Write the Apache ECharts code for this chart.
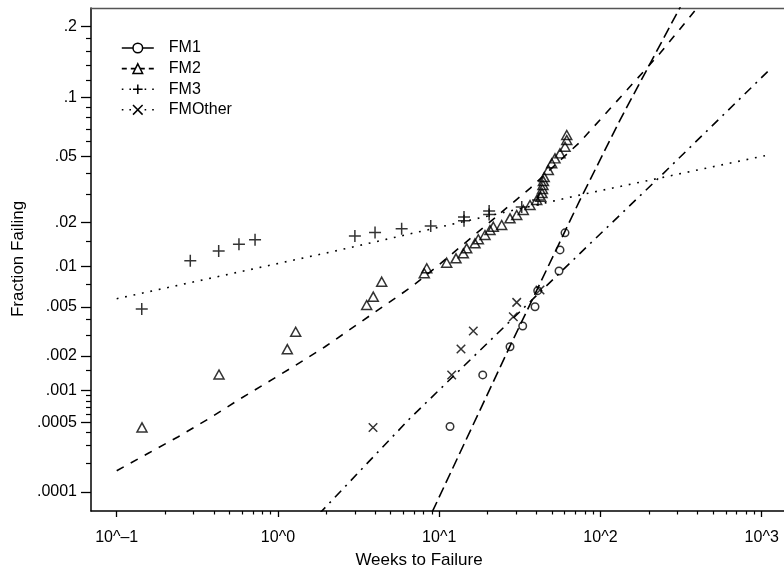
<!DOCTYPE html>
<html><head><meta charset="utf-8">
<script src="https://cdn.jsdelivr.net/npm/echarts@6/dist/echarts.min.js"></script>
<style>html,body{margin:0;padding:0;background:#fff}#c{width:784px;height:573px}</style>
</head><body><div id="c"></div>
<script>
// ---------- data (weeks to failure, fraction failing) ----------
const seriesNames = ['FM1', 'FM2', 'FM3', 'FMOther'];

const fm1Weeks = [11.67, 18.62, 27.49, 32.95, 39.28, 40.82, 55.34, 56.13, 60.29];
const fm1Frac  = [0.00046, 0.00137, 0.00239, 0.00354, 0.00502, 0.00666, 0.0093, 0.0131, 0.0171];

const fm2Weeks = [0.1435, 0.431, 1.143, 1.288, 3.55, 3.90, 4.40, 8.08, 8.37, 11.13, 12.71, 14.11, 14.81,
  16.67, 17.48, 19.23, 20.65, 21.65, 24.41, 27.49, 30.25, 33.23, 36.57, 40.25, 42.6, 43.4, 43.7, 44.0,
  44.3, 44.8, 47.5, 49.85, 52.25, 56.1, 60.3, 61.8, 61.8];
const fm2Frac  = [0.00045, 0.00138, 0.00228, 0.00318, 0.00518, 0.0060, 0.00777, 0.00895, 0.00973, 0.01066,
  0.01145, 0.01241, 0.01344, 0.01454, 0.01548, 0.01654, 0.01786, 0.01877, 0.01926, 0.02128, 0.02235,
  0.02404, 0.02585, 0.02776, 0.0290, 0.0306, 0.0324, 0.0342, 0.0361, 0.0381, 0.0419, 0.0457, 0.0487,
  0.0519, 0.0564, 0.0613, 0.0651];

const fm3Weeks = [0.143, 0.286, 0.429, 0.573, 0.721, 3.0, 4.0, 5.85, 8.86, 14.25, 14.25, 20.4, 20.4, 32.5, 41.0];
const fm3Frac  = [0.00482, 0.0110, 0.0129, 0.0143, 0.0154, 0.0163, 0.0172, 0.0182, 0.0190, 0.0217, 0.0205,
  0.0237, 0.0225, 0.0251, 0.0278];

const fmOWeeks = [3.886, 11.95, 13.65, 16.27, 28.81, 30.25, 42.19];
const fmOFrac  = [0.00045, 0.00137, 0.00229, 0.00322, 0.0042, 0.00543, 0.00674];

// fitted curves
const fm1FitWeeks = [9.05, 27.49, 74.7, 132.2, 315];
const fm1FitFrac  = [0.000061, 0.00242, 0.0278, 0.0777, 0.237];
const fm2FitWeeks = [0.1, 0.157, 0.241, 0.370, 0.568, 0.871, 1.276, 1.958, 6.75, 9.65, 36.57, 74.7, 234, 410];
const fm2FitFrac  = [0.000167, 0.000251, 0.000366, 0.000542, 0.000815, 0.00119, 0.00165, 0.00239, 0.00713,
  0.00998, 0.0327, 0.0598, 0.1566, 0.238];
const fm3FitWeeks = [0.1, 2.26, 74.7, 1048];
const fm3FitFrac  = [0.00579, 0.01287, 0.0298, 0.0504];
const fmOFitWeeks = [1.80, 6.59, 74.7, 234, 1089];
const fmOFitFrac  = [0.000058, 0.00055, 0.01241, 0.0383, 0.131];

// axis ticks
const xMajorTicks  = [0.1, 1, 10, 100, 1000];
const xMajorLabels = ['10^\u20131', '10^0', '10^1', '10^2', '10^3'];
const yMajorTicks  = [0.0001, 0.0005, 0.001, 0.002, 0.005, 0.01, 0.02, 0.05, 0.1, 0.2];
const yMajorLabels = ['.0001', '.0005', '.001', '.002', '.005', '.01', '.02', '.05', '.1', '.2'];
const yMinorTicks  = [0.0002, 0.0003, 0.0004, 0.0006, 0.0007, 0.0008, 0.0009, 0.0015, 0.003, 0.004, 0.0075,
  0.015, 0.03, 0.04, 0.06, 0.07, 0.08, 0.09, 0.12, 0.14, 0.16, 0.18];

// ---------- normal probability (probit) transform for the y axis ----------
function probit(p) {
  const a=[-3.969683028665376e+01,2.209460984245205e+02,-2.759285104469687e+02,1.383577518672690e+02,-3.066479806614716e+01,2.506628277459239e+00];
  const b=[-5.447609879822406e+01,1.615858368580409e+02,-1.556989798598866e+02,6.680131188771972e+01,-1.328068155288572e+01];
  const c=[-7.784894002430293e-03,-3.223964580411365e-01,-2.400758277161838e+00,-2.549671743282783e+00,4.374664141464968e+00,2.938163982698783e+00];
  const d=[7.784695709041462e-03,3.224671290700398e-01,2.445134137142996e+00,3.754408661907416e+00];
  const pl = 0.02425, ph = 1 - pl; let q, r;
  if (p < pl) { q = Math.sqrt(-2*Math.log(p)); return (((((c[0]*q+c[1])*q+c[2])*q+c[3])*q+c[4])*q+c[5])/((((d[0]*q+d[1])*q+d[2])*q+d[3])*q+1); }
  if (p <= ph) { q = p - 0.5; r = q*q; return (((((a[0]*r+a[1])*r+a[2])*r+a[3])*r+a[4])*r+a[5])*q/(((((b[0]*r+b[1])*r+b[2])*r+b[3])*r+b[4])*r+1); }
  q = Math.sqrt(-2*Math.log(1-p)); return -(((((c[0]*q+c[1])*q+c[2])*q+c[3])*q+c[4])*q+c[5])/((((d[0]*q+d[1])*q+d[2])*q+d[3])*q+1);
}
const pts = (w, f) => w.map((t, i) => [Math.log10(t), probit(f[i])]);

const xMajorVals = xMajorTicks.map(Math.log10);
const xMinorVals = [];
for (let n = -1; n < 3; n++) for (let k = 2; k <= 9; k++) xMinorVals.push(n + Math.log10(k));
const yMajorVals = yMajorTicks.map(probit);
const yMinorVals = yMinorTicks.map(probit);

const X_MIN = -1.1594, X_MAX = 3.1383, Y_MIN = -3.8363, Y_MAX = -0.7285;
const FONT = '"Liberation Sans", Arial, Helvetica, sans-serif';

const markers = {
  FM1: {symbol: 'circle', size: 7.5},
  FM2: {symbol: 'triangle', size: [10, 9]},
  FM3: {symbol: 'path://M0,5L10,5M5,0L5,10', size: 12},
  FMOther: {symbol: 'path://M0,0L10,10M10,0L0,10', size: 8.5}
};
const fitStyles = {
  FM1: [11, 5], FM2: [8, 8], FM3: [1.8, 6.8], FMOther: [9, 6, 2, 6]
};
const legendStyles = {
  FM1: 'solid', FM2: [5, 4], FM3: [1.6, 6], FMOther: [1.6, 6]
};
const pointSets = {
  FM1: pts(fm1Weeks, fm1Frac), FM2: pts(fm2Weeks, fm2Frac),
  FM3: pts(fm3Weeks, fm3Frac), FMOther: pts(fmOWeeks, fmOFrac)
};
const fitSets = {
  FM1: pts(fm1FitWeeks, fm1FitFrac), FM2: pts(fm2FitWeeks, fm2FitFrac),
  FM3: pts(fm3FitWeeks, fm3FitFrac), FMOther: pts(fmOFitWeeks, fmOFitFrac)
};

const series = [];
seriesNames.forEach(n => {
  series.push({
    type: 'line', name: n, data: fitSets[n], xAxisIndex: 0, yAxisIndex: 0,
    symbol: markers[n].symbol, symbolSize: markers[n].size, showSymbol: false,
    lineStyle: {color: '#000', width: 1.6, type: fitStyles[n]},
    itemStyle: {color: '#fff', borderColor: '#000', borderWidth: 1.5},
    silent: true, clip: true, z: 2, animation: false
  });
});
seriesNames.forEach(n => {
  series.push({
    type: 'scatter', name: n, data: pointSets[n], xAxisIndex: 0, yAxisIndex: 0,
    symbol: markers[n].symbol, symbolSize: markers[n].size,
    itemStyle: {color: 'rgba(0,0,0,0)', borderColor: '#000', borderWidth: 1.5},
    silent: true, z: 3, animation: false
  });
});

const findLabel = (vals, labels) => v => {
  for (let i = 0; i < vals.length; i++) if (Math.abs(vals[i] - v) < 1e-6) return labels[i];
  return '';
};

const gridPos = {left: 91, right: 0, top: 8, bottom: 62};
const option = {
  animation: false,
  textStyle: {fontFamily: FONT},
  grid: [Object.assign({}, gridPos), Object.assign({}, gridPos)],
  xAxis: [
    {gridIndex: 0, type: 'value', min: X_MIN, max: X_MAX, position: 'bottom',
     axisLine: {show: true, onZero: false, lineStyle: {color: '#000', width: 1.5}},
     axisTick: {show: true, customValues: xMajorVals, length: 6, lineStyle: {color: '#000', width: 1.3}},
     axisLabel: {show: true, customValues: xMajorVals, formatter: findLabel(xMajorVals, xMajorLabels),
       margin: 19, fontSize: 16, color: '#000', fontFamily: FONT},
     splitLine: {show: false}},
    {gridIndex: 0, type: 'value', min: X_MIN, max: X_MAX, position: 'top',
     axisLine: {show: true, onZero: false, lineStyle: {color: '#555', width: 1.3}},
     axisTick: {show: false}, axisLabel: {show: false}, splitLine: {show: false}},
    {gridIndex: 1, type: 'value', min: X_MIN, max: X_MAX, position: 'bottom',
     axisLine: {show: false, onZero: false},
     axisTick: {show: true, customValues: xMinorVals, length: 3.5, lineStyle: {color: '#000', width: 1.2}},
     axisLabel: {show: false}, splitLine: {show: false}}
  ],
  yAxis: [
    {gridIndex: 0, type: 'value', min: Y_MIN, max: Y_MAX, position: 'left',
     axisLine: {show: true, onZero: false, lineStyle: {color: '#000', width: 1.5}},
     axisTick: {show: true, customValues: yMajorVals, length: 10, lineStyle: {color: '#000', width: 1.3}},
     axisLabel: {show: true, customValues: yMajorVals, formatter: findLabel(yMajorVals, yMajorLabels),
       margin: 14, fontSize: 16, color: '#000', fontFamily: FONT},
     splitLine: {show: false}},
    {gridIndex: 1, type: 'value', min: Y_MIN, max: Y_MAX, position: 'left',
     axisLine: {show: false, onZero: false},
     axisTick: {show: true, customValues: yMinorVals, length: 5, lineStyle: {color: '#000', width: 1.2}},
     axisLabel: {show: false}, splitLine: {show: false}}
  ],
  legend: {
    orient: 'vertical', left: 121, top: 40, padding: 0,
    itemWidth: 32, itemHeight: 12, itemGap: 4.6, selectedMode: false,
    data: seriesNames.map(n => ({name: n, lineStyle: {type: legendStyles[n], width: 1.6, color: '#000'}})),
    itemStyle: {color: '#fff', borderColor: '#000', borderWidth: 1.5},
    textStyle: {fontSize: 16, color: '#000', fontFamily: FONT, padding: [0, 0, 0, 10]}
  },
  graphic: [
    {type: 'text', x: 18, y: 259, rotation: Math.PI / 2,
     style: {text: 'Fraction Failing', fontSize: 17, fontFamily: FONT, fill: '#000', align: 'center', verticalAlign: 'middle'}},
    {type: 'text', x: 419, y: 560,
     style: {text: 'Weeks to Failure', fontSize: 17, fontFamily: FONT, fill: '#000', align: 'center', verticalAlign: 'middle'}}
  ],
  series: series
};

const chart = echarts.init(document.getElementById('c'), null, {renderer: 'canvas'});
chart.setOption(option);
</script>
</body></html>
